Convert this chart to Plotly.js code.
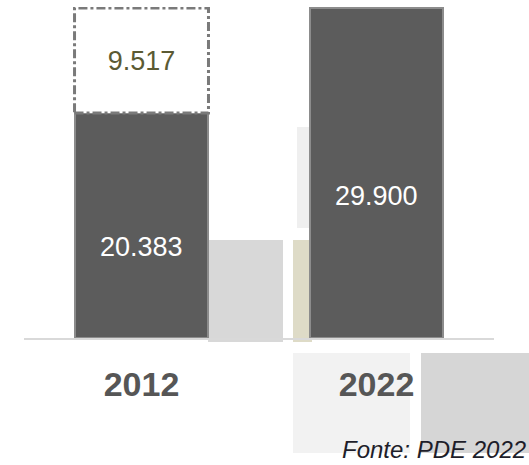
<!DOCTYPE html>
<html>
<head>
<meta charset="utf-8">
<script src="https://cdn.plot.ly/plotly-3.0.1.min.js"></script>
<style>html,body{margin:0;padding:0;background:#fff;overflow:hidden}#chart{width:529px;height:465px}</style>
</head>
<body>
<div id="chart"></div>
<script>
// ---- data ----
const years = ["2012", "2022"];
const baseValues = [20383, 29900];       // dark bars
const addedValues = [9517, null];        // dashed (added) segment
const baseLabels = ["20.383", "29.900"];
const addedLabels = ["9.517", ""];
const sourceText = "Fonte: PDE 2022";

// ---- style / layout ----
const W = 529, H = 465;
const M = {l: 24, r: 35, t: 7, b: 127};
const plotW = W - M.l - M.r, plotH = H - M.t - M.b;
const px = x => (x - M.l) / plotW;
const py = y => (H - M.b - y) / plotH;
const barW = 0.57;
const labelFrac = [0.405, 0.43];   // vertical placement of the white labels inside the bars

function rect(x0, y0, x1, y1, color) {
  return {type: 'rect', xref: 'paper', yref: 'paper', layer: 'below',
    x0: px(x0), x1: px(x1), y0: py(y1), y1: py(y0),
    fillcolor: color, line: {width: 0}};
}

const traces = [
  {type: 'bar', x: years, y: baseValues, width: barW,
   marker: {color: '#5c5c5c', line: {color: '#8c8c8c', width: 2}},
   hoverinfo: 'skip', showlegend: false},
  {type: 'bar', x: years, y: addedValues, width: barW,
   marker: {color: '#ffffff', line: {width: 0}},
   text: addedLabels, textposition: 'inside', insidetextanchor: 'middle',
   textfont: {family: 'Liberation Sans, Arial, sans-serif', size: 27, color: '#5b5a33'},
   hoverinfo: 'skip', showlegend: false}
];

const shapes = [
  rect(297, 127, 316, 228, '#efefef'),
  rect(208, 240, 283, 342, '#d8d8d8'),
  rect(293, 240, 312, 342, '#dedbc7'),
  rect(293, 353, 410, 453, '#f2f2f2'),
  rect(421, 353, 540, 453, '#d6d6d6')
];
years.forEach((yr, i) => {
  if (addedValues[i]) {
    shapes.push({type: 'rect', xref: 'x', yref: 'y', layer: 'above',
      x0: i - barW / 2, x1: i + barW / 2,
      y0: baseValues[i], y1: baseValues[i] + addedValues[i],
      line: {color: '#7a7a7a', width: 3, dash: 'dashdot'}, fillcolor: 'rgba(0,0,0,0)'});
  }
});

const annotations = years.map((yr, i) => ({
  x: i, y: baseValues[i] * labelFrac[i], xref: 'x', yref: 'y',
  text: baseLabels[i], showarrow: false, yanchor: 'middle',
  font: {family: 'Liberation Sans, Arial, sans-serif', size: 27, color: '#ffffff'}
}));
annotations.push({
  xref: 'paper', yref: 'paper', x: px(340), y: py(449),
  xanchor: 'left', yanchor: 'middle', showarrow: false,
  text: '<i>' + sourceText + '</i>',
  font: {family: 'Liberation Sans, Arial, sans-serif', size: 24, color: '#1e1e2a'}
});

const layout = {
  width: W, height: H, margin: M,
  paper_bgcolor: '#ffffff', plot_bgcolor: 'rgba(0,0,0,0)',
  barmode: 'stack', bargap: 0.43,
  xaxis: {type: 'category', range: [-0.5, 1.5], showgrid: false, zeroline: false,
    showline: true, linecolor: '#d9d9d9', linewidth: 2, layer: 'above traces',
    ticks: '', ticklabelstandoff: 15,
    tickfont: {family: 'Liberation Sans, Arial, sans-serif', size: 34, color: '#565656', weight: 'bold'}},
  yaxis: {range: [0, 30000], visible: false, showgrid: false, zeroline: false},
  shapes: shapes, annotations: annotations
};

Plotly.newPlot('chart', traces, layout, {staticPlot: true, displayModeBar: false});
</script>
</body>
</html>
